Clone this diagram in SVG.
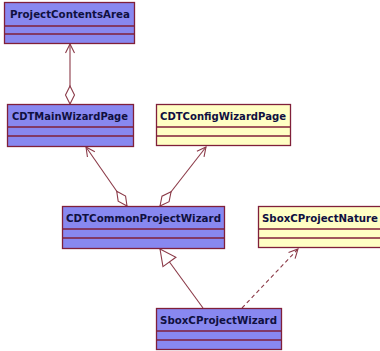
<svg xmlns="http://www.w3.org/2000/svg" width="380" height="351" viewBox="0 0 380 351">
<style>
.blue{fill:#8888f0;stroke:#80203a;stroke-width:1.3}
.yel{fill:#ffffc4;stroke:#80203a;stroke-width:1.3}
.sep{stroke:#80203a;stroke-width:1.3}
.t{font-family:"DejaVu Sans",Verdana,sans-serif;font-weight:bold;font-size:10.5px;fill:#101040}
.c{fill:none;stroke:#8b3a48;stroke-width:1.1}
</style>
<defs>
<marker id="dia" markerUnits="userSpaceOnUse" markerWidth="24" markerHeight="14" refX="0" refY="0" viewBox="-1 -7 22 14" orient="auto" overflow="visible">
<path d="M0,0 L9,-4.5 L18,0 L9,4.5 Z" fill="#ffffff" stroke="#8b3a48" stroke-width="1.1"/>
</marker>
<marker id="arr" markerUnits="userSpaceOnUse" markerWidth="14" markerHeight="14" refX="0" refY="0" viewBox="-12 -7 14 14" orient="auto" overflow="visible">
<path d="M-9,-4.5 L0,0 L-9,4.5" fill="none" stroke="#8b3a48" stroke-width="1.1"/>
</marker>
<marker id="tri" markerUnits="userSpaceOnUse" markerWidth="20" markerHeight="20" refX="0" refY="0" viewBox="-18 -10 20 20" orient="auto" overflow="visible">
<path d="M0,0 L-16,-8 L-16,8 Z" fill="#ffffff" stroke="#8b3a48" stroke-width="1.1"/>
</marker>
</defs>
<g id="connectors">
<line class="c" x1="70" y1="104" x2="70" y2="44" marker-start="url(#dia)" marker-end="url(#arr)"/>
<line class="c" x1="127" y1="206" x2="86" y2="147" marker-start="url(#dia)" marker-end="url(#arr)"/>
<line class="c" x1="160" y1="206" x2="206" y2="147" marker-start="url(#dia)" marker-end="url(#arr)"/>
<line class="c" x1="203" y1="308" x2="160" y2="249" marker-end="url(#tri)"/>
<line class="c" x1="242" y1="308" x2="298" y2="249" stroke-dasharray="4,3" marker-end="url(#arr)"/>
</g>
<g id="ProjectContentsArea">
<rect class="blue" x="4.5" y="2.5" width="130" height="41"/>
<line class="sep" x1="4.5" y1="26" x2="134.5" y2="26"/>
<line class="sep" x1="4.5" y1="34" x2="134.5" y2="34"/>
<text class="t" x="10" y="18" textLength="120" lengthAdjust="spacingAndGlyphs">ProjectContentsArea</text>
</g>
<g id="CDTMainWizardPage">
<rect class="blue" x="7.5" y="104.5" width="126" height="42"/>
<line class="sep" x1="7.5" y1="127" x2="133.5" y2="127"/>
<line class="sep" x1="7.5" y1="136" x2="133.5" y2="136"/>
<text class="t" x="12" y="120" textLength="116" lengthAdjust="spacingAndGlyphs">CDTMainWizardPage</text>
</g>
<g id="CDTConfigWizardPage">
<rect class="yel" x="156.5" y="104.5" width="134" height="41"/>
<line class="sep" x1="156.5" y1="127" x2="290.5" y2="127"/>
<line class="sep" x1="156.5" y1="136" x2="290.5" y2="136"/>
<text class="t" x="160" y="120" textLength="126" lengthAdjust="spacingAndGlyphs">CDTConfigWizardPage</text>
</g>
<g id="CDTCommonProjectWizard">
<rect class="blue" x="62.5" y="206.5" width="162" height="42"/>
<line class="sep" x1="62.5" y1="229" x2="224.5" y2="229"/>
<line class="sep" x1="62.5" y1="238" x2="224.5" y2="238"/>
<text class="t" x="66" y="222" textLength="155" lengthAdjust="spacingAndGlyphs">CDTCommonProjectWizard</text>
</g>
<g id="SboxCProjectNature">
<rect class="yel" x="258.5" y="206.5" width="130" height="41"/>
<line class="sep" x1="258.5" y1="229" x2="388.5" y2="229"/>
<line class="sep" x1="258.5" y1="238" x2="388.5" y2="238"/>
<text class="t" x="262" y="222" textLength="116" lengthAdjust="spacingAndGlyphs">SboxCProjectNature</text>
</g>
<g id="SboxCProjectWizard">
<rect class="blue" x="156.5" y="308.5" width="125" height="41"/>
<line class="sep" x1="156.5" y1="331" x2="281.5" y2="331"/>
<line class="sep" x1="156.5" y1="340" x2="281.5" y2="340"/>
<text class="t" x="160" y="324" textLength="117" lengthAdjust="spacingAndGlyphs">SboxCProjectWizard</text>
</g>
</svg>
